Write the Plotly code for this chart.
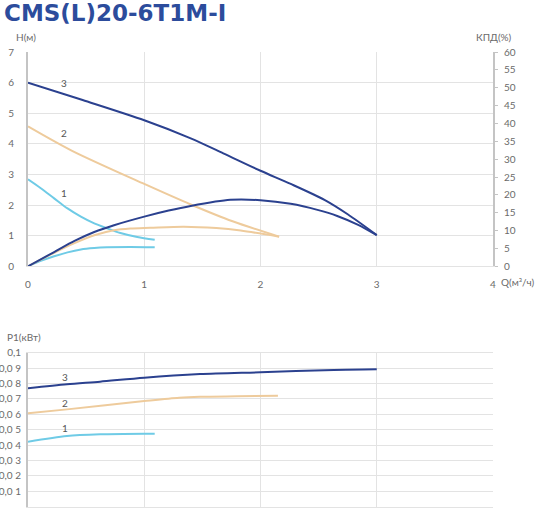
import plotly.graph_objects as go

W, H = 550, 512

# ---------------- data ----------------
# Head curves H(Q), m
q_h1 = [0, 0.11, 0.225, 0.34, 0.455, 0.57, 0.68, 0.795, 0.94, 1.09]
h1 = [2.84, 2.55, 2.22, 1.89, 1.62, 1.40, 1.24, 1.09, 0.96, 0.87]
q_h2 = [0, 0.375, 1.0, 1.4, 1.76, 2.16]
h2 = [4.57, 3.78, 2.69, 2.02, 1.47, 0.97]
q_h3 = [0, 0.47, 1.0, 1.4, 1.68, 2.0, 2.26, 2.55, 2.75, 3.0]
h3 = [6.0, 5.43, 4.77, 4.18, 3.69, 3.12, 2.69, 2.17, 1.70, 1.02]

# Efficiency curves KPD(Q), %
q_e1 = [0, 0.11, 0.225, 0.34, 0.455, 0.57, 0.68, 0.88, 1.09]
e1 = [0, 1.5, 2.8, 3.9, 4.7, 5.1, 5.3, 5.4, 5.3]
q_e2 = [0, 0.225, 0.4, 0.57, 0.74, 0.88, 1.05, 1.34, 1.62, 1.83, 2.16]
e2 = [0, 3.8, 6.5, 8.7, 10.1, 10.6, 10.8, 11.1, 10.7, 10.0, 8.3]
q_e3 = [0, 0.225, 0.4, 0.57, 0.74, 1.0, 1.21, 1.4, 1.74, 2.0, 2.26, 2.49, 2.66, 2.84, 3.0]
e3 = [0, 4.0, 7.1, 9.6, 11.5, 13.9, 15.6, 16.9, 18.6, 18.5, 17.5, 15.8, 14.1, 11.6, 8.7]

# Power curves P1(Q), kW
q_p1 = [0, 0.335, 0.62, 1.0, 1.09]
p1 = [0.0422, 0.0459, 0.047, 0.0474, 0.0474]
q_p2 = [0, 0.335, 1.0, 1.3, 1.48, 1.8, 2.15]
p2 = [0.0606, 0.0632, 0.0686, 0.0708, 0.0714, 0.0717, 0.072]
q_p3 = [0, 0.335, 0.62, 1.0, 1.48, 2.0, 2.63, 3.0]
p3 = [0.0769, 0.0795, 0.0812, 0.0838, 0.0861, 0.0873, 0.0888, 0.0892]

x_ticks = [0, 1, 2, 3, 4]
h_ticks = [0, 1, 2, 3, 4, 5, 6, 7]
e_ticks = [0, 5, 10, 15, 20, 25, 30, 35, 40, 45, 50, 55, 60]
p_ticks = [0, 0.01, 0.02, 0.03, 0.04, 0.05, 0.06, 0.07, 0.08, 0.09, 0.1]
p_tick_labels = ["0", "0,0 1", "0,0 2", "0,0 3", "0,0 4", "0,0 5",
                 "0,0 6", "0,0 7", "0,0 8", "0,0 9", "0,1"]

title = "CMS(L)20-6T1M-I"
curve_names = ["1", "2", "3"]

# ---------------- style ----------------
C1 = "#6fcbe6"
C2 = "#eecb9c"
C3 = "#2b418f"
GRID = "#e3e3e3"
AXL = "#c4c4c4"
TXT = "#6a6a6a"
FONT = "Lato"


def px(x):
    return x / W


def py(y):
    return 1 - y / H


fig = go.Figure()


def line(x, y, color, xa, ya):
    fig.add_trace(go.Scatter(x=x, y=y, mode="lines", xaxis=xa, yaxis=ya,
                             line=dict(color=color, width=2, shape="spline", smoothing=0.8),
                             hoverinfo="skip", showlegend=False))


line(q_h1, h1, C1, "x", "y")
line(q_h2, h2, C2, "x", "y")
line(q_h3, h3, C3, "x", "y")
line(q_e1, e1, C1, "x", "y3")
line(q_e2, e2, C2, "x", "y3")
line(q_e3, e3, C3, "x", "y3")
line(q_p1, p1, C1, "x2", "y2")
line(q_p2, p2, C2, "x2", "y2")
line(q_p3, p3, C3, "x2", "y2")

xdom = [px(28), px(493)]
ydom_top = [py(266.3), py(52)]
ydom_bot = [py(506.7), py(352.7)]

tickfont = dict(family=FONT, size=10, color=TXT)

fig.update_layout(
    width=W, height=H,
    margin=dict(l=0, r=0, t=0, b=0, autoexpand=False),
    paper_bgcolor="white", plot_bgcolor="white",
    showlegend=False,
    xaxis=dict(domain=xdom, anchor="y", range=[0, 4], tickvals=x_ticks,
               ticktext=[str(v) for v in x_ticks], showgrid=True, gridcolor=GRID,
               gridwidth=1, zeroline=False, showline=True, linecolor=GRID, linewidth=1,
               ticks="", tickfont=tickfont, ticklabelstandoff=9, automargin=False),
    yaxis=dict(domain=ydom_top, anchor="x", range=[0, 7], tickvals=h_ticks,
               showgrid=True, gridcolor=GRID, zeroline=False, showline=True,
               linecolor=AXL, linewidth=2, ticks="", tickfont=tickfont,
               ticklabelstandoff=10, automargin=False),
    yaxis3=dict(overlaying="y", side="right", anchor="x", range=[0, 60],
                tickvals=e_ticks, showgrid=False, zeroline=False, showline=True,
                linecolor=AXL, linewidth=2, ticks="outside", ticklen=3,
                tickcolor=AXL, tickfont=tickfont, ticklabelstandoff=4, automargin=False),
    xaxis2=dict(domain=xdom, anchor="y2", range=[0, 4], tickvals=x_ticks,
                showticklabels=False, showgrid=True, gridcolor=GRID, zeroline=False,
                showline=True, linecolor=GRID, linewidth=1, mirror=True, ticks="",
                automargin=False),
    yaxis2=dict(domain=ydom_bot, anchor="x2", range=[0, 0.1], tickvals=p_ticks,
                ticktext=p_tick_labels, showgrid=True, gridcolor=GRID, zeroline=False,
                showline=True, linecolor=AXL, linewidth=2, ticks="",
                tickfont=tickfont, ticklabelstandoff=3, automargin=False),
)

ann = []
ann.append(dict(text="<b>" + title + "</b>", x=px(2), y=py(13), xref="paper", yref="paper",
                xanchor="left", yanchor="middle", showarrow=False,
                font=dict(family="DejaVu Sans", size=23, color="#2c4c9c")))
lab = dict(family=FONT, size=10, color=TXT)
ann.append(dict(text="H(м)", x=px(14), y=py(37), xref="paper", yref="paper",
                xanchor="left", yanchor="middle", showarrow=False, font=lab))
ann.append(dict(text="КПД(%)", x=px(514), y=py(37), xref="paper", yref="paper",
                xanchor="right", yanchor="middle", showarrow=False, font=lab))
ann.append(dict(text="Q(м³/ч)", x=px(499), y=py(282), xref="paper", yref="paper",
                xanchor="left", yanchor="middle", showarrow=False, font=lab))
ann.append(dict(text="P1(кВт)", x=px(5), y=py(337), xref="paper", yref="paper",
                xanchor="left", yanchor="middle", showarrow=False, font=lab))

num = dict(family=FONT, size=10, color="#555555")
# curve numbers on the top chart
for name, xv, yv in zip(curve_names, [0.31, 0.31, 0.31], [2.38, 4.35, 5.98]):
    ann.append(dict(text=name, x=xv, y=yv, xref="x", yref="y", showarrow=False, font=num))
# curve numbers on the bottom chart
for name, xv, yv in zip(curve_names, [0.32, 0.32, 0.32], [0.0509, 0.0675, 0.0844]):
    ann.append(dict(text=name, x=xv, y=yv, xref="x2", yref="y2", showarrow=False, font=num))

fig.update_layout(annotations=ann)
# remove the browser's default 8px page margin so the figure sits at the window's corner
fig.write_html("out.html", config={"displayModeBar": False},
               post_script="document.body.style.margin='0';document.body.style.padding='0';")
